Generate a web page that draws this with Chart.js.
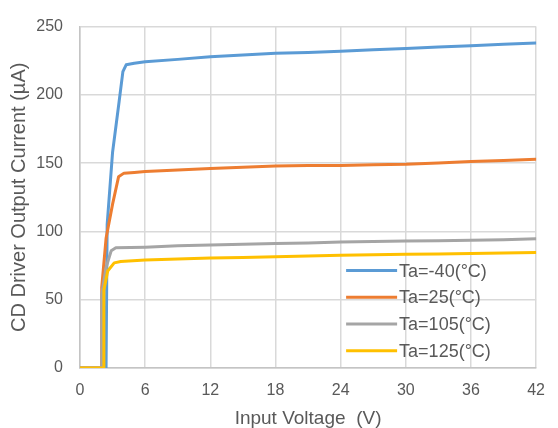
<!DOCTYPE html>
<html>
<head>
<meta charset="utf-8">
<script src="https://cdn.jsdelivr.net/npm/chart.js@4"></script>
<style>
  html, body { margin: 0; padding: 0; background: #fff; }
  #wrap { width: 558px; height: 428px; }
</style>
</head>
<body>
<div id="wrap"><canvas id="ivChart" width="558" height="428"></canvas></div>
<script>
// Input voltage (V) / output current (uA)
const voltsM40 = [0, 2.3, 2.4, 2.5, 3.0, 3.6, 3.95, 4.25, 5, 6, 9, 12, 15, 18, 21, 24, 27, 30, 33, 36, 39, 42];
const currM40  = [0, 0, 0, 105, 158, 195, 217, 222, 223.2, 224.3, 226, 228, 229.2, 230.4, 231, 232, 233, 234, 235, 236, 237, 238];

const volts25 = [0, 1.95, 2.0, 2.4, 3.0, 3.55, 4.05, 5, 6, 9, 12, 15, 18, 21, 24, 27, 30, 33, 36, 39, 42];
const curr25  = [0, 0, 59, 95, 120, 140, 142.7, 143.2, 143.9, 145, 146, 147, 148, 148.2, 148.3, 148.8, 149.2, 150.2, 151.2, 152, 152.8];

const volts105 = [0, 1.95, 2.0, 2.4, 2.87, 3.3, 6, 9, 12, 15, 18, 21, 24, 27, 30, 33, 36, 39, 42];
const curr105  = [0, 0, 54, 73.6, 85.8, 88, 88.5, 89.5, 90.1, 90.6, 91.1, 91.6, 92.2, 92.6, 93, 93.2, 93.5, 94, 94.7];

const volts125 = [0, 2.15, 2.2, 2.55, 3.15, 3.75, 6, 9, 12, 15, 18, 21, 24, 27, 30, 33, 36, 39, 42];
const curr125  = [0, 0, 57, 71, 77, 78, 79, 79.8, 80.5, 81, 81.4, 82, 82.6, 83, 83.3, 83.5, 83.8, 84.2, 84.5];

const seriesNames = ["Ta=-40(°C)", "Ta=25(°C)", "Ta=105(°C)", "Ta=125(°C)"];
const seriesColors = ["#5B9BD5", "#ED7D31", "#A5A5A5", "#FFC000"];

const xTicks = [0, 6, 12, 18, 24, 30, 36, 42];
const yTicks = [0, 50, 100, 150, 200, 250];

const toPoints = (xs, ys) => xs.map((x, i) => ({ x: x, y: ys[i] }));

const textColor = "#595959";
const gridColor = "#d9d9d9";
const fontFamily = "'Liberation Sans', Arial, sans-serif";

// legend drawn inside the plot, lower right
const insideLegend = {
  id: "insideLegend",
  afterDatasetsDraw(chart) {
    const ctx = chart.ctx;
    const area = chart.chartArea;
    const x0 = area.right - 190;
    const y0 = area.top + 244;
    ctx.save();
    ctx.font = "18px " + fontFamily;
    ctx.fillStyle = textColor;
    ctx.textBaseline = "middle";
    seriesNames.forEach((name, i) => {
      const y = y0 + i * 26.7;
      ctx.strokeStyle = seriesColors[i];
      ctx.lineWidth = 3;
      ctx.beginPath();
      ctx.moveTo(x0, y);
      ctx.lineTo(x0 + 51, y);
      ctx.stroke();
      ctx.fillText(name, x0 + 53, y + 1);
    });
    ctx.restore();
  }
};

const ctx = document.getElementById("ivChart").getContext("2d");
const ivChart = new Chart(ctx, {
  type: "line",
  data: {
    datasets: [
      { label: seriesNames[0], data: toPoints(voltsM40, currM40), borderColor: seriesColors[0], order: 4 },
      { label: seriesNames[1], data: toPoints(volts25, curr25), borderColor: seriesColors[1], order: 3 },
      { label: seriesNames[2], data: toPoints(volts105, curr105), borderColor: seriesColors[2], order: 2 },
      { label: seriesNames[3], data: toPoints(volts125, curr125), borderColor: seriesColors[3], order: 1 },
    ],
  },
  options: {
    responsive: false,
    animation: false,
    devicePixelRatio: 1,
    layout: { padding: { top: 24, right: 14, left: 0, bottom: 0 } },
    elements: {
      point: { radius: 0 },
      line: { borderWidth: 3, tension: 0, fill: false, borderJoinStyle: "round", borderCapStyle: "round" },
    },
    scales: {
      x: {
        type: "linear",
        min: 0,
        max: 42,
        afterBuildTicks: (s) => { s.ticks = xTicks.map((v) => ({ value: v })); },
        afterFit: (s) => { s.height = 60; },
        grid: { color: gridColor, lineWidth: 1.5, drawTicks: false },
        border: { color: "#c4c4c4", width: 1.5 },
        ticks: {
          color: textColor,
          padding: 13,
          font: { family: fontFamily, size: 16 },
          maxRotation: 0,
        },
        title: {
          display: true,
          text: "Input Voltage  (V)",
          color: textColor,
          padding: { top: 0, bottom: 0 },
          font: { family: fontFamily, size: 19, lineHeight: 1.0 },
        },
      },
      y: {
        min: 0,
        max: 250,
        afterBuildTicks: (s) => { s.ticks = yTicks.map((v) => ({ value: v })); },
        afterFit: (s) => { s.width = 80; },
        grid: { color: gridColor, lineWidth: 1.5, drawTicks: false },
        border: { color: "#c4c4c4", width: 1.5 },
        ticks: {
          color: textColor,
          padding: 17,
          font: { family: fontFamily, size: 16 },
        },
        title: {
          display: true,
          text: "CD Driver Output Current (µA)",
          color: textColor,
          padding: { top: 7, bottom: 0 },
          font: { family: fontFamily, size: 20 },
        },
      },
    },
    plugins: {
      legend: { display: false },
      tooltip: { enabled: false },
    },
  },
  plugins: [insideLegend],
});
</script>
</body>
</html>
